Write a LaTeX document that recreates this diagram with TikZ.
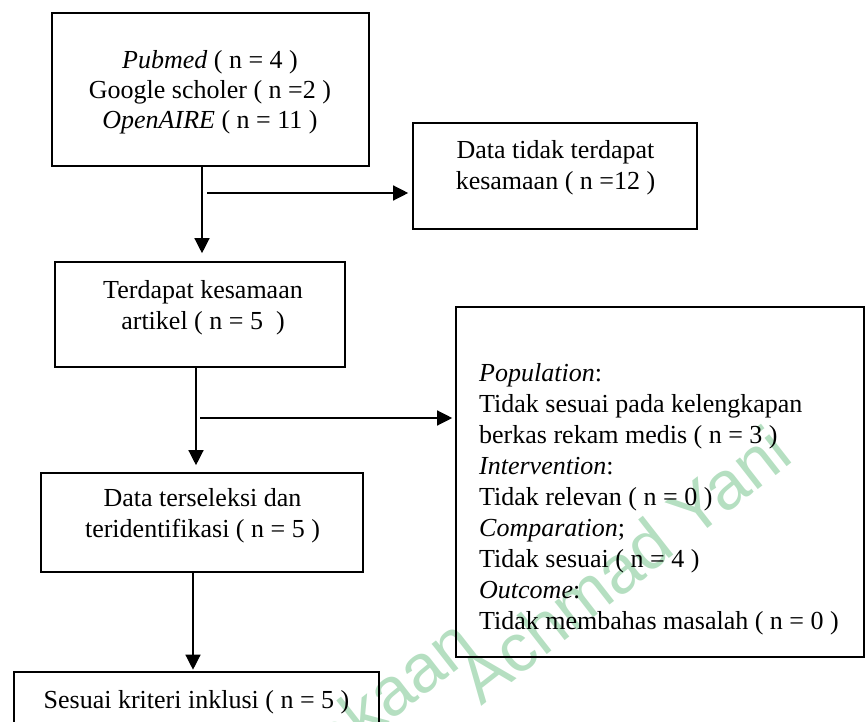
\documentclass[tikz,border=0pt]{standalone}
\usepackage{fontspec}
\setmainfont{Liberation Serif}
\newfontfamily\wmfont{Liberation Sans}
\usetikzlibrary{arrows.meta}
\definecolor{wmgreen}{RGB}{181,223,193}
\setlength{\lineskiplimit}{-50pt}
\tikzset{
  box/.style={draw, line width=2.6pt, inner sep=0pt},
  boxtext/.style={align=center, inner sep=0pt, font=\fontsize{26}{31}\selectfont},
  srctext/.style={boxtext, font=\fontsize{26}{30}\selectfont},
  flow/.style={line width=1.3pt, -{Triangle[length=15pt,width=15pt]}},
  wmark/.style={font=\wmfont\fontsize{68}{68}\selectfont, text=wmgreen, rotate=38, inner sep=0pt, anchor=base east}
}

\begin{document}
\begin{tikzpicture}[x=1pt, y=-1pt]
  \useasboundingbox (0,0) rectangle (868,722);
  \clip (0,0) rectangle (868,722);

  % Watermark, cut by the page edge.
  \node[wmark] (wm1) at (480,652) {Perpustakaan};
  \node[wmark] (wm2) at (796,460) {Achmad Yani};

  % Search sources.
  \node[box, minimum width=317pt, minimum height=153pt] (src) at (210.5,89.5) {};
  \node[srctext] (srctxt) at (210,92)
    {\textit{Pubmed} ( n = 4 )\\Google scholer ( n =2 )\\\textit{OpenAIRE} ( n = 11 )};

  % Not matching.
  \node[box, minimum width=284pt, minimum height=106pt] (nosame) at (555,176) {};
  \node[boxtext] (nosametxt) at (555.5,167.5) {Data tidak terdapat\\kesamaan ( n =12 )};

  % Matching articles.
  \node[box, minimum width=290pt, minimum height=105pt] (match) at (200,314.5) {};
  \node[boxtext] (matchtxt) at (203,307.5) {Terdapat kesamaan\\artikel ( n = 5~ )};

  % Excluded, PICO.
  \node[box, minimum width=408pt, minimum height=350pt] (excl) at (660,482) {};
  \node[boxtext, align=left, anchor=west] (excltxt) at (479,499.5)
    {\textit{Population}:\\
     Tidak sesuai pada kelengkapan\\
     berkas rekam medis ( n = 3 )\\
     \textit{Intervention}:\\
     Tidak relevan ( n = 0 )\\
     \textit{Comparation};\\
     Tidak sesuai ( n = 4 )\\
     \textit{Outcome}:\\
     Tidak membahas masalah ( n = 0 )};

  % Selected.
  \node[box, minimum width=322pt, minimum height=99pt] (select) at (202,522.5) {};
  \node[boxtext] (selecttxt) at (202.5,516) {Data terseleksi dan\\teridentifikasi ( n = 5 )};

  % Included.
  \node[box, minimum width=365pt, minimum height=60pt] (incl) at (196.5,702) {};
  \node[boxtext] (incltxt) at (196.5,702) {Sesuai kriteri inklusi ( n = 5 )};

  % Connectors.
  \coordinate (t1) at (202,0);
  \coordinate (t2) at (196,0);
  \coordinate (t3) at (193,0);
  \coordinate (j1) at (207,193);
  \coordinate (j2) at (200,418);
  \draw[flow, shorten >=7.5pt] (src.south -| t1) -- (match.north -| t1);
  \draw[flow, shorten >=3.5pt] (j1) -- (j1 -| nosame.west);
  \draw[flow, shorten >=6.5pt] (match.south -| t2) -- (select.north -| t2);
  \draw[flow, shorten >=2.5pt] (j2) -- (j2 -| excl.west);
  \draw[flow, shorten >=1pt] (select.south -| t3) -- (incl.north -| t3);
\end{tikzpicture}
\end{document}
